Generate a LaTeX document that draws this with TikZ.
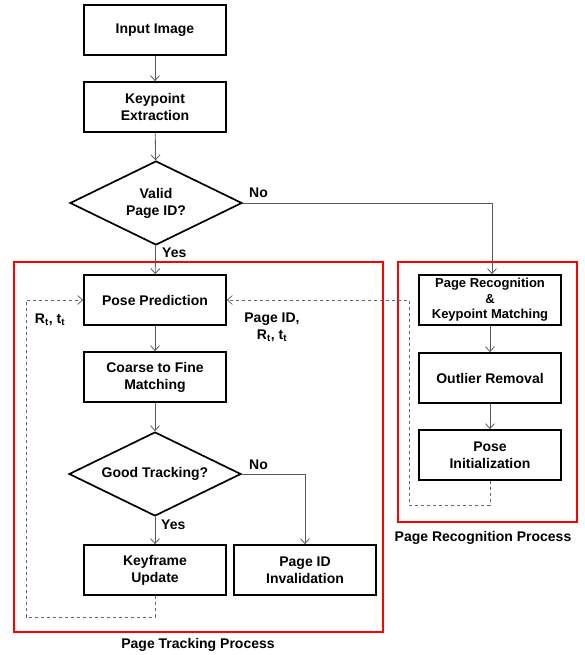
\documentclass[tikz,border=0pt]{standalone}
\usepackage{fontspec}
\setmainfont{Liberation Sans}
\usetikzlibrary{arrows.meta,shapes.geometric}
\begin{document}
\begin{tikzpicture}[x=1pt,y=-1pt,
  font=\bfseries\fontsize{14}{17}\selectfont,
  procbox/.style={draw=black,line width=1.7pt,minimum width=142pt,minimum height=50pt,align=center,inner sep=1pt},
  decision/.style={draw=black,line width=1.7pt,diamond,aspect=2.05,minimum width=172pt,minimum height=84pt,align=center,inner sep=0pt},
  flow/.style={draw=black!65,line width=0.8pt,-{Straight Barb[length=5pt,width=9pt]}},
  fb/.style={draw=black!60,line width=0.8pt,dash pattern=on 3.5pt off 2.5pt},
  fbarrow/.style={fb,-{Straight Barb[length=5pt,width=9pt]}},
  region/.style={draw=red,line width=2.8pt},
  lab/.style={inner sep=0pt}]
\useasboundingbox (0,0) rectangle (584,655);
% red regions
\draw[region] (14,262) rectangle (383,632);
\draw[region] (398,262) rectangle (577,522);
% nodes
\node[procbox] (input) at (155,30) {Input Image};
\node[procbox] (kpe) at (155,107) {Keypoint\\Extraction};
\node[decision] (valid) at (156,203) {Valid\\Page ID?};
\node[procbox] (pose) at (155,300) {Pose Prediction};
\node[procbox] (coarse) at (155,377) {Coarse to Fine\\Matching};
\node[decision] (good) at (155,474) {Good Tracking?};
\node[procbox] (key) at (155,570) {Keyframe\\Update};
\node[procbox] (inval) at (305,570) {Page ID\\Invalidation};
\node[procbox,font=\bfseries\fontsize{13}{15.5}\selectfont] (prec) at (490,300) {Page Recognition\\\&\\Keypoint Matching};
\node[procbox] (outl) at (490,378) {Outlier Removal};
\node[procbox] (pinit) at (490,455) {Pose\\Initialization};
% coordinates
\coordinate (c1) at (492,203);
\coordinate (c2) at (305,474);
\coordinate (d1) at (155,617);
\coordinate (d2) at (26,617);
\coordinate (d3) at (26,300);
\coordinate (e1) at (490,505);
\coordinate (e2) at (409,505);
\coordinate (e3) at (409,300);
% flows
\draw[flow] (input) -- (kpe);
\draw[flow] (kpe) -- (valid);
\draw[flow] (valid) -- (pose);
\draw[flow] (valid.east) -- (c1) -- (prec.north -| c1);
\draw[flow] (pose) -- (coarse);
\draw[flow] (coarse) -- (good);
\draw[flow] (good) -- (key);
\draw[flow] (good.east) -- (c2) -- (inval);
\draw[flow] (prec) -- (outl);
\draw[flow] (outl) -- (pinit);
% feedback
\draw[fbarrow] (key.south) -- (d1) -- (d2) -- (d3) -- (pose.west);
\draw[fbarrow] (pinit.south) -- (e1) -- (e2) -- (e3) -- (pose.east);
% labels
\node[lab,anchor=west] at (249,193) {No};
\node[lab,anchor=west] at (162,253) {Yes};
\node[lab,anchor=west] at (249,465) {No};
\node[lab,anchor=west] at (161,525) {Yes};
\node[lab] at (50,320) {R$_\mathbf{t}$, t$_\mathbf{t}$};
\node[lab,align=center] at (272,327) {Page ID,\\R$_\mathbf{t}$, t$_\mathbf{t}$};
\node[lab] at (198,645) {Page Tracking Process};
\node[lab] at (483,538) {Page Recognition Process};
\end{tikzpicture}
\end{document}
